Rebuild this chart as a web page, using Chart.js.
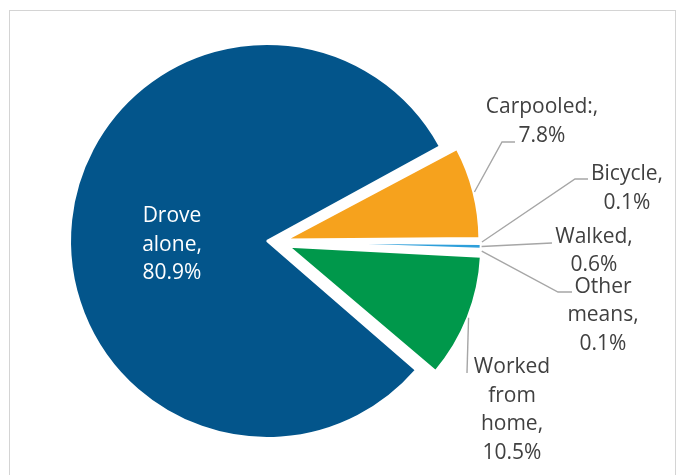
<!DOCTYPE html>
<html><head><meta charset="utf-8">
<script src="https://cdn.jsdelivr.net/npm/chart.js@4.4.0/dist/chart.umd.min.js"></script>
<style>
html,body{margin:0;padding:0;background:#fff;overflow:hidden;}
#wrap{position:relative;width:677px;height:475px;overflow:hidden;}
#frame{position:absolute;left:9px;top:10px;width:667px;height:500px;border:1px solid #d4d4d4;box-sizing:border-box;}
canvas{position:absolute;left:0;top:0;}
</style></head><body>
<div id="wrap"><div id="frame"></div><canvas id="c" width="677" height="475"></canvas></div>
<script>
// ---- data ----
const categories = ['Drove alone', 'Carpooled:', 'Bicycle', 'Walked', 'Other means', 'Worked from home'];
const shares = [80.9, 7.8, 0.1, 0.6, 0.1, 10.5];

// ---- styles / layout ----
const colors = ['#03558B', '#F6A21D', '#8C8C8C', '#2E9FDA', '#7F7F7F', '#00984B'];
const explode = [40, 41, 34, 34, 34, 52];
const LINE_H = 28.6;
const labelLayout = [
  {x: 172, y: 222, color: '#ffffff'},
  {x: 542, y: 113, pts: [[502, 142], [515, 142]]},
  {x: 627, y: 180, pts: [[575, 179], [588, 179]]},
  {x: 594, y: 242.5, pts: [[552, 243]]},
  {x: 603, y: 292.5, pts: [[558, 292], [572, 292]]},
  {x: 512, y: 373, pts: [[467, 373]]}
];

const labelPlugin = {
  id: 'sliceLabels',
  afterDatasetsDraw(chart) {
    const ctx = chart.ctx;
    const meta = chart.getDatasetMeta(0);
    ctx.save();
    meta.data.forEach((arc, i) => {
      const L = labelLayout[i];
      const p = arc.getProps(['x', 'y', 'startAngle', 'endAngle', 'outerRadius', 'circumference'], true);
      const off = (arc.options.offset || 0) / 4;
      const mid = (p.startAngle + p.endAngle) / 2;
      const fix = 1 - Math.sin(Math.min(Math.PI, p.circumference));
      const r = p.outerRadius + off * fix;
      const cx = p.x + Math.cos(mid) * off, cy = p.y + Math.sin(mid) * off;
      if (L.pts) {
        ctx.beginPath();
        ctx.moveTo(cx + Math.cos(mid) * (r + 1), cy + Math.sin(mid) * (r + 1));
        L.pts.forEach(q => ctx.lineTo(q[0], q[1]));
        ctx.strokeStyle = '#A6A6A6';
        ctx.lineWidth = 1.4;
        ctx.stroke();
      }
      const words = (categories[i] + ', ' + shares[i].toFixed(1) + '%').split(' ');
      ctx.fillStyle = L.color || '#404040';
      ctx.font = '21px "Open Sans"';
      ctx.textAlign = 'center';
      ctx.textBaseline = 'alphabetic';
      words.forEach((w, k) => ctx.fillText(w, L.x, L.y + k * LINE_H));
    });
    ctx.restore();
  }
};

new Chart(document.getElementById('c'), {
  type: 'pie',
  data: {
    labels: categories,
    datasets: [{
      data: shares,
      backgroundColor: colors,
      borderColor: '#ffffff',
      borderWidth: 2,
      offset: explode
    }]
  },
  options: {
    responsive: false,
    animation: false,
    events: [],
    rotation: 130.5,
    radius: 187,
    layout: {padding: {left: 0, right: 123, top: 9, bottom: 0}},
    plugins: {legend: {display: false}, tooltip: {enabled: false}}
  },
  plugins: [labelPlugin]
});
</script>
</body></html>
